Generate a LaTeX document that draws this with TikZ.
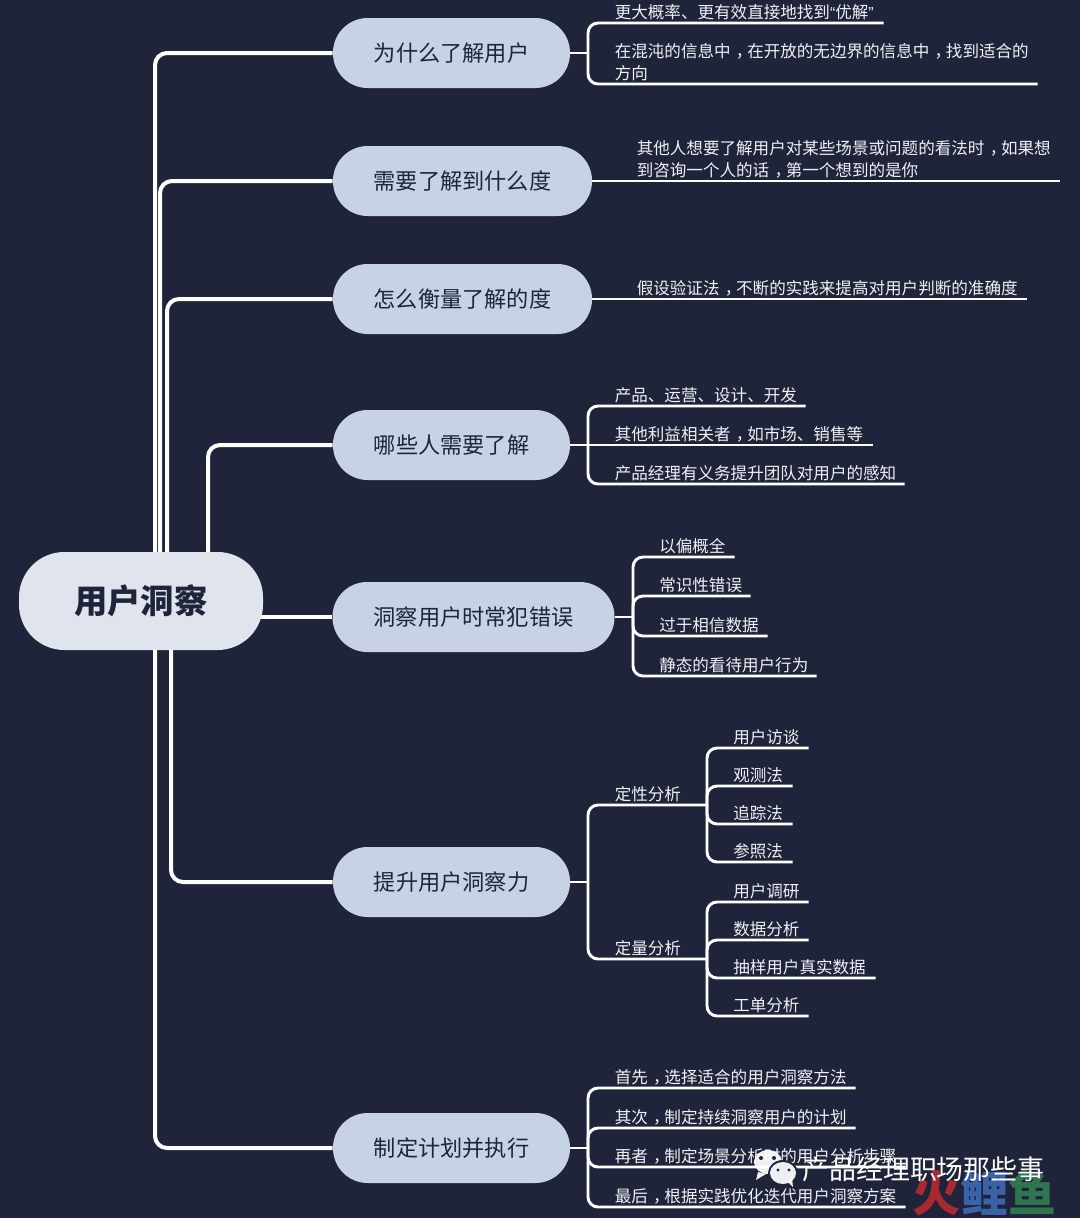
\documentclass[tikz,border=0pt]{standalone}
\usepackage{fontspec}
\setmainfont{Noto Sans CJK SC}
\newfontfamily\qfont{Liberation Sans}
\newcommand{\cm}{\kern.32em ，\kern-.32em\relax}
\usetikzlibrary{calc}
\definecolor{bgc}{HTML}{1F243A}
\definecolor{rootc}{HTML}{E0E4EC}
\definecolor{mainc}{HTML}{C7D3E5}
\definecolor{leafc}{HTML}{F0F1F4}
\tikzset{
  x=0.75pt,y=-0.75pt,
  rootbox/.style={draw=none,fill=rootc,text=bgc,rounded corners=34pt,minimum width=183pt,minimum height=73.5pt,inner sep=0pt,font=\fontsize{25}{30}\selectfont\bfseries},
  mainbox/.style={draw=none,fill=mainc,text=bgc,rounded corners=26pt,minimum height=52.5pt,inner sep=0pt,font=\fontsize{16.65}{20}\selectfont},
  leaftext/.style={anchor=south west,inner xsep=0pt,inner ysep=2pt,text=leafc,align=left,font=\fontsize{12.42}{16.5}\selectfont},
  trunk/.style={draw=white,line width=3pt,rounded corners=9pt},
  branch/.style={draw=white,line width=2.2pt,rounded corners=7.5pt}
}
\newcommand{\leafnode}[5]{%
  \pgfmathsetlengthmacro{\lw}{(#4-#2)*0.75pt}%
  \node[leaftext,text width=\lw] (#1) at (#2,#3) {#5};}
\begin{document}
\begin{tikzpicture}
\useasboundingbox (0,0) rectangle (1080,1218);
\fill[bgc] (0,0) rectangle (1080,1218);
% main nodes
\node[mainbox,minimum width=177.75pt] (m1) at (451.5,53) {为什么了解用户};
\node[mainbox,minimum width=194.25pt] (m2) at (462.5,181) {需要了解到什么度};
\node[mainbox,minimum width=194.25pt] (m3) at (462.5,299) {怎么衡量了解的度};
\node[mainbox,minimum width=177.75pt] (m4) at (451.5,445) {哪些人需要了解};
\node[mainbox,minimum width=211.5pt] (m5) at (473.5,617) {洞察用户时常犯错误};
\node[mainbox,minimum width=177.75pt] (m6) at (451.5,882) {提升用户洞察力};
\node[mainbox,minimum width=177.75pt] (m7) at (451.5,1148) {制定计划并执行};
% trunk start points
\coordinate (t1) at (155,570);
\coordinate (t2) at (160,570);
\coordinate (t3) at (167,570);
\coordinate (t4) at (208,570);
\coordinate (t5) at (250,617);
\coordinate (t6) at (171,640);
\coordinate (t7) at (155,640);
\draw[trunk] (t1) |- (m1.west);
\draw[trunk] (t2) |- (m2.west);
\draw[trunk] (t3) |- (m3.west);
\draw[trunk] (t4) |- (m4.west);
\draw[trunk] (t5) -- (m5.west);
\draw[trunk] (t6) |- (m6.west);
\draw[trunk] (t7) |- (m7.west);
\node[rootbox] (root) at (141,601) {用户洞察};
% junctions
\coordinate (j1) at (588,53);
\coordinate (j4) at (588,445);
\coordinate (j5) at (633,617);
\coordinate (j6) at (588,882);
\coordinate (j61) at (707,805);
\coordinate (j62) at (707,959);
\coordinate (j7) at (588,1148);
% leaves
\leafnode{a1}{614.5}{23}{883}{更大概率、更有效直接地找到{\qfont\fontsize{12}{16}\selectfont “}优解{\qfont\fontsize{12}{16}\selectfont ”}}
\leafnode{a2}{614.5}{84}{1037}{在混沌的信息中\cm 在开放的无边界的信息中\cm 找到适合的\\方向}
\leafnode{b1}{636.5}{181}{1059}{其他人想要了解用户对某些场景或问题的看法时\cm 如果想\\到咨询一个人的话\cm 第一个想到的是你}
\leafnode{c1}{636.5}{299}{1026}{假设验证法\cm 不断的实践来提高对用户判断的准确度}
\leafnode{d1}{614.5}{406}{805}{产品、运营、设计、开发}
\leafnode{d2}{614.5}{445}{872}{其他利益相关者\cm 如市场、销售等}
\leafnode{d3}{614.5}{484}{904}{产品经理有义务提升团队对用户的感知}
\leafnode{e1}{659}{557}{734}{以偏概全}
\leafnode{e2}{659}{596}{750}{常识性错误}
\leafnode{e3}{659}{636}{767}{过于相信数据}
\leafnode{e4}{659}{676}{816}{静态的看待用户行为}
\leafnode{f1}{614.5}{805}{689}{定性分析}
\leafnode{f2}{614.5}{959}{689}{定量分析}
\leafnode{g1}{733}{748}{808}{用户访谈}
\leafnode{g2}{733}{786}{792}{观测法}
\leafnode{g3}{733}{824}{792}{追踪法}
\leafnode{g4}{733}{862}{792}{参照法}
\leafnode{h1}{733}{902}{808}{用户调研}
\leafnode{h2}{733}{940}{808}{数据分析}
\leafnode{h3}{733}{978}{875}{抽样用户真实数据}
\leafnode{h4}{733}{1016}{808}{工单分析}
\leafnode{k1}{614.5}{1088}{855}{首先\cm 选择适合的用户洞察方法}
\leafnode{k2}{614.5}{1128}{855}{其次\cm 制定持续洞察用户的计划}
\leafnode{k3}{614.5}{1167}{905}{再者\cm 制定场景分析时的用户分析步骤}
\leafnode{k4}{614.5}{1207}{905}{最后\cm 根据实践优化迭代用户洞察方案}
% connectors
\draw[branch] (m1.east) -- (j1);
\draw[branch] (j1) |- (a1.south west) -- (a1.south east);
\draw[branch] (j1) |- (a2.south west) -- (a2.south east);
\draw[branch] (m2.east) -- (b1.south east);
\draw[branch] (m3.east) -- (c1.south east);
\draw[branch] (m4.east) -- (d2.south east);
\draw[branch] (j4) |- (d1.south west) -- (d1.south east);
\draw[branch] (j4) |- (d3.south west) -- (d3.south east);
\draw[branch] (m5.east) -- (j5);
\draw[branch] (j5) |- (e1.south west) -- (e1.south east);
\draw[branch] (j5) |- (e2.south west) -- (e2.south east);
\draw[branch] (j5) |- (e3.south west) -- (e3.south east);
\draw[branch] (j5) |- (e4.south west) -- (e4.south east);
\draw[branch] (m6.east) -- (j6);
\draw[branch] (j6) |- (f1.south west) -- (j61);
\draw[branch] (j6) |- (f2.south west) -- (j62);
\draw[branch] (j61) |- (g1.south west) -- (g1.south east);
\draw[branch] (j61) |- (g2.south west) -- (g2.south east);
\draw[branch] (j61) |- (g3.south west) -- (g3.south east);
\draw[branch] (j61) |- (g4.south west) -- (g4.south east);
\draw[branch] (j62) |- (h1.south west) -- (h1.south east);
\draw[branch] (j62) |- (h2.south west) -- (h2.south east);
\draw[branch] (j62) |- (h3.south west) -- (h3.south east);
\draw[branch] (j62) |- (h4.south west) -- (h4.south east);
\draw[branch] (m7.east) -- (j7);
\draw[branch] (j7) |- (k1.south west) -- (k1.south east);
\draw[branch] (j7) |- (k2.south west) -- (k2.south east);
\draw[branch] (j7) |- (k3.south west) -- (k3.south east);
\draw[branch] (j7) |- (k4.south west) -- (k4.south east);
% watermark
\node[anchor=center,inner sep=0pt,font=\fontsize{36}{40}\selectfont\bfseries] (w3) at (984,1193) {\textcolor[HTML]{A82A30}{火}\textcolor[HTML]{3A62A8}{鲤}\textcolor[HTML]{2E7550}{鱼}};
\fill[white,opacity=.93] (768,1162) ellipse [x radius=14,y radius=12];
\fill[white,opacity=.93] (758,1172) -- (756,1180) -- (766,1174) -- cycle;
\fill[bgc] (761,1158) circle (2);
\fill[bgc] (774,1158) circle (2);
\fill[bgc] (783,1173) ellipse [x radius=15,y radius=13];
\fill[white,opacity=.93] (783,1173) ellipse [x radius=13,y radius=11];
\fill[white,opacity=.93] (788,1182) -- (793,1187) -- (792,1178) -- cycle;
\fill[bgc] (778,1170) circle (1.7);
\fill[bgc] (789,1170) circle (1.7);
\node[anchor=west,inner sep=0pt,text=white,font=\fontsize{20.2}{24}\selectfont] (w2) at (802,1169) {产品经理职场那些事};
\end{tikzpicture}
\end{document}
